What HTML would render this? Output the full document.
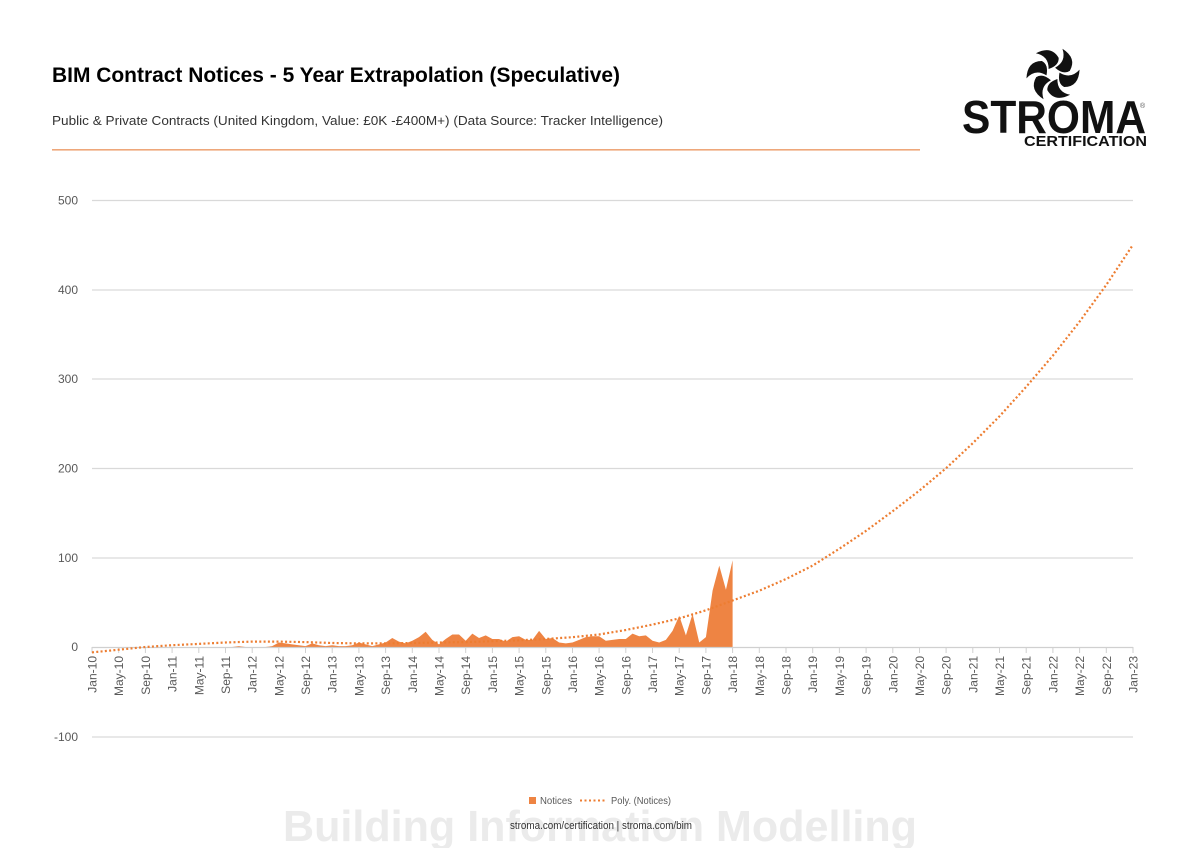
<!DOCTYPE html>
<html><head><meta charset="utf-8"><style>
html,body{margin:0;padding:0;background:#fff;}
svg{display:block;}
text{font-family:"Liberation Sans",sans-serif;}
</style></head><body>
<svg width="1200" height="848" viewBox="0 0 1200 848" xmlns="http://www.w3.org/2000/svg">
<rect width="1200" height="848" fill="#fff"/>
<!-- Title -->
<text x="52" y="82" font-size="21" font-weight="bold" fill="#000" textLength="568" lengthAdjust="spacingAndGlyphs">BIM Contract Notices - 5 Year Extrapolation (Speculative)</text>
<text x="52" y="125" font-size="13" fill="#333" textLength="611" lengthAdjust="spacingAndGlyphs">Public &amp; Private Contracts (United Kingdom, Value: £0K -£400M+) (Data Source: Tracker Intelligence)</text>
<rect x="52" y="149" width="868" height="1.6" fill="#eea77a"/>

<!-- Logo -->
<g transform="translate(1053 74) scale(1.05)" fill="#111">
<path d="M2,-6 Q13,-12 9,-24 Q23,-15 16,-3 Q10,1 2,-6 Z"/>
<path d="M2,-6 Q13,-12 9,-24 Q23,-15 16,-3 Q10,1 2,-6 Z" transform="rotate(60)"/>
<path d="M2,-6 Q13,-12 9,-24 Q23,-15 16,-3 Q10,1 2,-6 Z" transform="rotate(120)"/>
<path d="M2,-6 Q13,-12 9,-24 Q23,-15 16,-3 Q10,1 2,-6 Z" transform="rotate(180)"/>
<path d="M2,-6 Q13,-12 9,-24 Q23,-15 16,-3 Q10,1 2,-6 Z" transform="rotate(240)"/>
<path d="M2,-6 Q13,-12 9,-24 Q23,-15 16,-3 Q10,1 2,-6 Z" transform="rotate(300)"/>
</g>
<text x="962" y="133" font-size="46" font-weight="bold" fill="#111" textLength="184" lengthAdjust="spacingAndGlyphs">STROMA</text>
<text x="1140" y="108" font-size="7" fill="#555">®</text>
<text x="1024" y="146" font-size="15" font-weight="bold" fill="#111" textLength="123" lengthAdjust="spacingAndGlyphs">CERTIFICATION</text>

<!-- Gridlines -->
<g stroke="#d9d9d9" stroke-width="1.2">
<line x1="92" y1="200.5" x2="1133" y2="200.5"/>
<line x1="92" y1="290" x2="1133" y2="290"/>
<line x1="92" y1="379" x2="1133" y2="379"/>
<line x1="92" y1="468.5" x2="1133" y2="468.5"/>
<line x1="92" y1="558" x2="1133" y2="558"/>
<line x1="92" y1="737" x2="1133" y2="737"/>
</g>
<!-- Y labels -->
<g font-size="12" fill="#595959" text-anchor="end">
<text x="78" y="204.5">500</text>
<text x="78" y="294">400</text>
<text x="78" y="383">300</text>
<text x="78" y="472.5">200</text>
<text x="78" y="562">100</text>
<text x="78" y="651">0</text>
<text x="78" y="741">-100</text>
</g>

<!-- Area -->
<polygon transform="translate(92 647) scale(6.673 -0.894)" fill="#ee8443" points="0,0 21,0 22,1 23,0 26,0 27,1 28,5 29,4 30,3 31,2 32,1 33,4 34,2 35,1 36,2 37,1 38,1 39,2 40,5 41,3 42,1 43,3 44,5 45,10 46,6 47,4 48,7 49,11 50,17 51,8 52,3 53,9 54,14 55,14 56,7 57,15 58,10 59,13 60,9 61,9 62,6 63,11 64,12 65,8 66,8 67,18 68,9 69,10 70,5 71,4 72,5 73,8 74,11 75,12 76,12 77,7 78,8 79,9 80,9 81,15 82,12 83,13 84,7 85,5 86,8 87,18 88,35 89,13 90,37 91,5 92,11 93,63 94,91 95,64 96,97 96,0"/>

<!-- Axis -->
<line x1="92" y1="647.5" x2="1133" y2="647.5" stroke="#d0d0d0" stroke-width="1.2"/>
<g stroke="#d0d0d0" stroke-width="1">
<line x1="92" y1="647" x2="92" y2="653"/><line x1="118.7" y1="647" x2="118.7" y2="653"/><line x1="145.4" y1="647" x2="145.4" y2="653"/><line x1="172.1" y1="647" x2="172.1" y2="653"/><line x1="198.8" y1="647" x2="198.8" y2="653"/><line x1="225.5" y1="647" x2="225.5" y2="653"/><line x1="252.2" y1="647" x2="252.2" y2="653"/><line x1="278.8" y1="647" x2="278.8" y2="653"/><line x1="305.5" y1="647" x2="305.5" y2="653"/><line x1="332.2" y1="647" x2="332.2" y2="653"/><line x1="358.9" y1="647" x2="358.9" y2="653"/><line x1="385.6" y1="647" x2="385.6" y2="653"/><line x1="412.3" y1="647" x2="412.3" y2="653"/><line x1="439" y1="647" x2="439" y2="653"/><line x1="465.7" y1="647" x2="465.7" y2="653"/><line x1="492.4" y1="647" x2="492.4" y2="653"/><line x1="519.1" y1="647" x2="519.1" y2="653"/><line x1="545.8" y1="647" x2="545.8" y2="653"/><line x1="572.5" y1="647" x2="572.5" y2="653"/><line x1="599.1" y1="647" x2="599.1" y2="653"/><line x1="625.8" y1="647" x2="625.8" y2="653"/><line x1="652.5" y1="647" x2="652.5" y2="653"/><line x1="679.2" y1="647" x2="679.2" y2="653"/><line x1="705.9" y1="647" x2="705.9" y2="653"/><line x1="732.6" y1="647" x2="732.6" y2="653"/><line x1="759.3" y1="647" x2="759.3" y2="653"/><line x1="786" y1="647" x2="786" y2="653"/><line x1="812.7" y1="647" x2="812.7" y2="653"/><line x1="839.4" y1="647" x2="839.4" y2="653"/><line x1="866.1" y1="647" x2="866.1" y2="653"/><line x1="892.8" y1="647" x2="892.8" y2="653"/><line x1="919.5" y1="647" x2="919.5" y2="653"/><line x1="946.1" y1="647" x2="946.1" y2="653"/><line x1="972.8" y1="647" x2="972.8" y2="653"/><line x1="999.5" y1="647" x2="999.5" y2="653"/><line x1="1026.2" y1="647" x2="1026.2" y2="653"/><line x1="1052.9" y1="647" x2="1052.9" y2="653"/><line x1="1079.6" y1="647" x2="1079.6" y2="653"/><line x1="1106.3" y1="647" x2="1106.3" y2="653"/><line x1="1133" y1="647" x2="1133" y2="653"/>
</g>
<!-- X labels -->
<g font-size="12" fill="#595959" text-anchor="end">
<text transform="translate(96.5 656) rotate(-90)">Jan-10</text>
<text transform="translate(123.2 656) rotate(-90)">May-10</text>
<text transform="translate(149.9 656) rotate(-90)">Sep-10</text>
<text transform="translate(176.6 656) rotate(-90)">Jan-11</text>
<text transform="translate(203.3 656) rotate(-90)">May-11</text>
<text transform="translate(230 656) rotate(-90)">Sep-11</text>
<text transform="translate(256.7 656) rotate(-90)">Jan-12</text>
<text transform="translate(283.3 656) rotate(-90)">May-12</text>
<text transform="translate(310 656) rotate(-90)">Sep-12</text>
<text transform="translate(336.7 656) rotate(-90)">Jan-13</text>
<text transform="translate(363.4 656) rotate(-90)">May-13</text>
<text transform="translate(390.1 656) rotate(-90)">Sep-13</text>
<text transform="translate(416.8 656) rotate(-90)">Jan-14</text>
<text transform="translate(443.5 656) rotate(-90)">May-14</text>
<text transform="translate(470.2 656) rotate(-90)">Sep-14</text>
<text transform="translate(496.9 656) rotate(-90)">Jan-15</text>
<text transform="translate(523.6 656) rotate(-90)">May-15</text>
<text transform="translate(550.3 656) rotate(-90)">Sep-15</text>
<text transform="translate(577 656) rotate(-90)">Jan-16</text>
<text transform="translate(603.6 656) rotate(-90)">May-16</text>
<text transform="translate(630.3 656) rotate(-90)">Sep-16</text>
<text transform="translate(657 656) rotate(-90)">Jan-17</text>
<text transform="translate(683.7 656) rotate(-90)">May-17</text>
<text transform="translate(710.4 656) rotate(-90)">Sep-17</text>
<text transform="translate(737.1 656) rotate(-90)">Jan-18</text>
<text transform="translate(763.8 656) rotate(-90)">May-18</text>
<text transform="translate(790.5 656) rotate(-90)">Sep-18</text>
<text transform="translate(817.2 656) rotate(-90)">Jan-19</text>
<text transform="translate(843.9 656) rotate(-90)">May-19</text>
<text transform="translate(870.6 656) rotate(-90)">Sep-19</text>
<text transform="translate(897.3 656) rotate(-90)">Jan-20</text>
<text transform="translate(924 656) rotate(-90)">May-20</text>
<text transform="translate(950.6 656) rotate(-90)">Sep-20</text>
<text transform="translate(977.3 656) rotate(-90)">Jan-21</text>
<text transform="translate(1004 656) rotate(-90)">May-21</text>
<text transform="translate(1030.7 656) rotate(-90)">Sep-21</text>
<text transform="translate(1057.4 656) rotate(-90)">Jan-22</text>
<text transform="translate(1084.1 656) rotate(-90)">May-22</text>
<text transform="translate(1110.8 656) rotate(-90)">Sep-22</text>
<text transform="translate(1137.5 656) rotate(-90)">Jan-23</text>
</g>

<!-- Trendline -->
<polyline fill="none" stroke="#ed7d31" stroke-width="2.2" stroke-dasharray="2 2.3" stroke-linejoin="round" points="92,652.4 118.7,649.7 145.4,647 172.1,645.2 198.8,643.9 225.5,642.5 252.2,641.6 278.8,641.6 305.5,642.1 332.2,643 358.9,643.4 385.6,643.4 412.3,643 439,642.5 465.7,642.1 492.4,641.2 519.1,640.3 545.8,639 572.5,637.2 599.1,634.5 625.8,630 652.5,624.6 679.2,618.4 705.9,610.3 732.6,600.5 759.3,590.7 786,579 812.7,565.6 839.4,548.7 866.1,530.8 892.8,511.1 919.5,490.5 946.1,468.2 972.8,443.2 999.5,416.3 1026.2,386.8 1052.9,355.6 1079.6,321.6 1106.3,284.9 1133,244.7"/>

<!-- Watermark -->
<text x="283" y="841" font-size="44" font-weight="bold" fill="#ebebeb" textLength="634" lengthAdjust="spacingAndGlyphs">Building Information Modelling</text>

<!-- Legend -->
<rect x="529" y="797" width="7" height="7" fill="#ee8443"/>
<text x="540" y="804" font-size="10" fill="#595959" textLength="32" lengthAdjust="spacingAndGlyphs">Notices</text>
<line x1="580" y1="800.5" x2="607" y2="800.5" stroke="#ed7d31" stroke-width="2" stroke-dasharray="2 2.5"/>
<text x="611" y="804" font-size="10" fill="#595959" textLength="60" lengthAdjust="spacingAndGlyphs">Poly. (Notices)</text>

<text x="510" y="829" font-size="11" fill="#333" textLength="182" lengthAdjust="spacingAndGlyphs">stroma.com/certification | stroma.com/bim</text>
</svg>
</body></html>
